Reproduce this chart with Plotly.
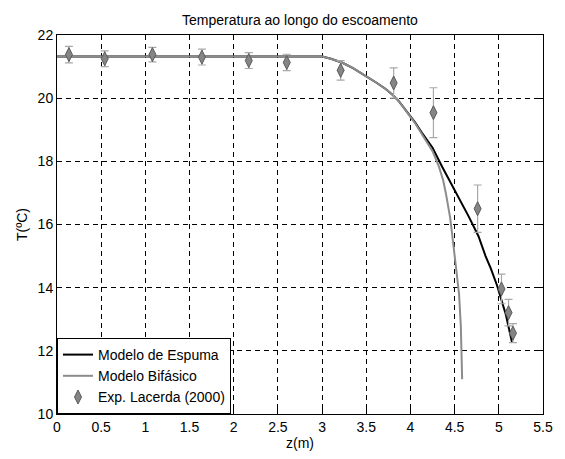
import plotly.graph_objects as go

# Modelo de Espuma (black line)
espuma_z = [0.0, 0.5, 1.0, 1.5, 2.0, 2.5, 3.0, 3.1, 3.23, 3.35, 3.5, 3.62, 3.72, 3.80, 3.87, 3.98, 4.05, 4.13, 4.25, 4.36, 4.45, 4.51, 4.60, 4.66, 4.77, 4.85, 4.91, 4.98, 5.08, 5.15]
espuma_T = [21.32, 21.32, 21.32, 21.32, 21.32, 21.32, 21.32, 21.25, 21.12, 20.95, 20.70, 20.48, 20.29, 20.10, 19.90, 19.50, 19.24, 18.90, 18.43, 17.82, 17.35, 17.05, 16.55, 16.25, 15.63, 15.00, 14.60, 14.07, 13.14, 12.26]

# Modelo Bifásico (gray line)
bifasico_z = [0.0, 0.5, 1.0, 1.5, 2.0, 2.5, 3.0, 3.1, 3.23, 3.35, 3.5, 3.62, 3.72, 3.80, 3.87, 3.98, 4.05, 4.13, 4.20, 4.25, 4.32, 4.37, 4.40, 4.45, 4.48, 4.51, 4.55, 4.57, 4.585]
bifasico_T = [21.32, 21.32, 21.32, 21.32, 21.32, 21.32, 21.32, 21.25, 21.12, 20.95, 20.70, 20.48, 20.29, 20.10, 19.90, 19.50, 19.22, 18.86, 18.55, 18.32, 17.85, 17.40, 17.00, 16.20, 15.50, 14.80, 13.80, 12.80, 11.10]

# Exp. Lacerda (2000)
exp_z = [0.135, 0.54, 1.08, 1.64, 2.17, 2.60, 3.21, 3.81, 4.26, 4.76, 5.03, 5.11, 5.16]
exp_T = [21.38, 21.25, 21.38, 21.30, 21.19, 21.13, 20.88, 20.48, 19.54, 16.50, 13.96, 13.21, 12.56]
exp_err = [0.26, 0.25, 0.23, 0.25, 0.25, 0.26, 0.31, 0.48, 0.79, 0.75, 0.47, 0.42, 0.30]

x_ticks = [0, 0.5, 1, 1.5, 2, 2.5, 3, 3.5, 4, 4.5, 5, 5.5]
x_labels = ["0", "0.5", "1", "1.5", "2", "2.5", "3", "3.5", "4", "4.5", "5", "5.5"]
y_ticks = [10, 12, 14, 16, 18, 20, 22]

FONT = "Liberation Sans, Arial, sans-serif"

fig = go.Figure()
fig.add_trace(go.Scatter(x=espuma_z, y=espuma_T, mode="lines", name="Modelo de Espuma",
                         line=dict(color="black", width=2)))
fig.add_trace(go.Scatter(x=bifasico_z, y=bifasico_T, mode="lines", name="Modelo Bifásico",
                         line=dict(color="#8c8c8c", width=2)))
fig.add_trace(go.Scatter(x=exp_z, y=exp_T, mode="markers", name="Exp. Lacerda (2000)",
                         marker=dict(symbol="diamond-tall", size=10, color="#858585",
                                     line=dict(color="#5a5a5a", width=1)),
                         error_y=dict(type="data", array=exp_err, visible=True,
                                      color="#a8a8a8", thickness=1.2, width=4)))

axis_common = dict(showline=True, linecolor="black", linewidth=1, mirror="ticks",
                   ticks="inside", ticklen=5, tickcolor="black",
                   showgrid=True, gridcolor="black", gridwidth=1, griddash="5px,4px",
                   zeroline=False, tickfont=dict(family=FONT, size=14, color="black"))

fig.update_layout(
    width=565, height=459,
    margin=dict(l=57, r=21, t=35, b=39),
    paper_bgcolor="white", plot_bgcolor="white",
    font=dict(family=FONT, size=14, color="black"),
    title=dict(text="Temperatura ao longo do escoamento", x=0.5, xref="paper",
               y=1 - 20 / 459, yref="container", yanchor="middle", xanchor="center",
               font=dict(family=FONT, size=14, color="black")),
    xaxis=dict(range=[0, 5.5], tickvals=x_ticks, ticktext=x_labels,
               title=dict(text="z(m)", standoff=2, font=dict(family=FONT, size=14)),
               **axis_common),
    yaxis=dict(range=[10, 22], tickvals=y_ticks,
               title=dict(text="T(ºC)", standoff=6, font=dict(family=FONT, size=14)),
               **axis_common),
    legend=dict(x=0, y=0, xanchor="left", yanchor="bottom", bgcolor="white",
                bordercolor="black", borderwidth=1,
                font=dict(family=FONT, size=14, color="black"),
                tracegroupgap=0, itemwidth=30),
    showlegend=True,
)

fig.write_html("out.html")
